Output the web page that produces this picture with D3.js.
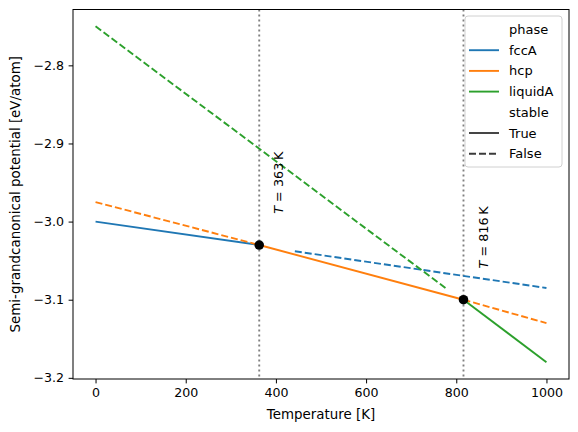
<!DOCTYPE html>
<html>
<head>
<meta charset="utf-8">
<script src="https://cdn.jsdelivr.net/npm/d3@7"></script>
<style>
  body { margin: 0; background: #fff; }
  text { font-family: "DejaVu Sans", sans-serif; }
</style>
</head>
<body>
<div id="chart"></div>
<script>
// phases and colours
var phases = ["fccA", "hcp", "liquidA"];
var phaseColors = ["#1f77b4", "#ff7f0e", "#2ca02c"];

// segments
var fccTrueT = [0, 363],     fccTrueV = [-3.000, -3.030];
var fccFalseT = [442, 1000], fccFalseV = [-3.038, -3.085];
var hcpFalseLowT = [0, 363], hcpFalseLowV = [-2.975, -3.030];
var hcpTrueT = [363, 816],   hcpTrueV = [-3.030, -3.100];
var hcpFalseHighT = [816, 1000], hcpFalseHighV = [-3.100, -3.130];
var liqFalseT = [0, 776],    liqFalseV = [-2.750, -3.085];
var liqTrueT = [816, 1000],  liqTrueV = [-3.100, -3.180];

// transitions
var transT = [363, 816];
var transV = [-3.030, -3.100];

var xTicks = [0, 200, 400, 600, 800, 1000];
var yTicks = [-3.2, -3.1, -3.0, -2.9, -2.8];

var segments = [
    {phase: "fccA", stable: true, T: fccTrueT, V: fccTrueV},
    {phase: "fccA", stable: false, T: fccFalseT, V: fccFalseV},
    {phase: "hcp", stable: false, T: hcpFalseLowT, V: hcpFalseLowV},
    {phase: "hcp", stable: true, T: hcpTrueT, V: hcpTrueV},
    {phase: "hcp", stable: false, T: hcpFalseHighT, V: hcpFalseHighV},
    {phase: "liquidA", stable: false, T: liqFalseT, V: liqFalseV},
    {phase: "liquidA", stable: true, T: liqTrueT, V: liqTrueV}
];

var W = 578, H = 432;
var margin = {top: 9.5, right: 9, bottom: 53, left: 73};
var width = W - margin.left - margin.right,
    height = H - margin.top - margin.bottom;

var svg = d3.select("#chart").append("svg")
    .attr("width", W)
    .attr("height", H);

var g = svg.append("g")
    .attr("transform", "translate(" + margin.left + "," + margin.top + ")");

var x = d3.scaleLinear().domain([-50, 1050]).range([0, width]);
var y = d3.scaleLinear().domain([-3.2015, -2.7285]).range([height, 0]);

var color = d3.scaleOrdinal().domain(phases).range(phaseColors);

var line = d3.line()
    .x(function(d) { return x(d[0]); })
    .y(function(d) { return y(d[1]); });

// clip
g.append("clipPath").attr("id", "clip")
    .append("rect").attr("width", width).attr("height", height);

var plot = g.append("g").attr("clip-path", "url(#clip)");

// vertical transition lines
plot.selectAll(".vline")
    .data(transT)
    .enter().append("line")
    .attr("class", "vline")
    .attr("x1", function(d) { return x(d); })
    .attr("x2", function(d) { return x(d); })
    .attr("y1", 0)
    .attr("y2", height)
    .style("stroke", "#808080")
    .style("stroke-width", 1.9)
    .style("stroke-dasharray", "1.9,3.1");

plot.selectAll(".seg")
    .data(segments)
    .enter().append("path")
    .attr("class", "seg")
    .attr("d", function(d) {
        return line(d.T.map(function(t, i) { return [t, d.V[i]]; }));
    })
    .style("fill", "none")
    .style("stroke", function(d) { return color(d.phase); })
    .style("stroke-width", 1.9)
    .style("stroke-dasharray", function(d) { return d.stable ? null : "7,3"; });

// transition points
plot.selectAll(".dot")
    .data(transT)
    .enter().append("circle")
    .attr("class", "dot")
    .attr("cx", function(d) { return x(d); })
    .attr("cy", function(d, i) { return y(transV[i]); })
    .attr("r", 4.8)
    .style("fill", "#000");

// T = ... K labels
var lab = g.selectAll(".tlab")
    .data(transT)
    .enter().append("text")
    .attr("class", "tlab")
    .attr("transform", function(d, i) {
        return "translate(" + (x(d + 30) + 10.5) + "," + y(transV[i] + 0.04) + ") rotate(-90)";
    })
    .style("font-size", "12.8px")
    .style("fill", "#000");
lab.append("tspan").style("font-style", "italic").text("T");
lab.append("tspan").text(function(d) { return " = " + d + "\u2009K"; });

// axes
var xAxis = g.append("g")
    .attr("transform", "translate(0," + height + ")")
    .call(d3.axisBottom(x).tickValues(xTicks).tickSize(4.4).tickPadding(4.5)
        .tickFormat(d3.format("d")));
var yAxis = g.append("g")
    .call(d3.axisLeft(y).tickValues(yTicks).tickSize(4.4).tickPadding(4.5)
        .tickFormat(function(d) { return d3.format(".1f")(d).replace("-", "\u2212"); }));

[xAxis, yAxis].forEach(function(a) {
    a.select(".domain").remove();
    a.selectAll("text").style("font-size", "12.6px").style("font-family", "DejaVu Sans").style("fill", "#000");
    a.selectAll("line").style("stroke", "#000").style("stroke-width", 1);
});

g.append("rect")
    .attr("width", width)
    .attr("height", height)
    .style("fill", "none")
    .style("stroke", "#000")
    .style("stroke-width", 1);

// axis labels
g.append("text")
    .attr("x", width / 2)
    .attr("y", height + 40)
    .attr("text-anchor", "middle")
    .style("font-size", "13.4px")
    .text("Temperature [K]");

g.append("text")
    .attr("transform", "translate(" + (-53.5) + "," + (height / 2) + ") rotate(-90)")
    .attr("text-anchor", "middle")
    .style("font-size", "13.4px")
    .text("Semi-grandcanonical potential [eV/atom]");

// legend
var legendItems = [
    {label: "phase", color: null, dash: null},
    {label: "fccA", color: phaseColors[0], dash: null},
    {label: "hcp", color: phaseColors[1], dash: null},
    {label: "liquidA", color: phaseColors[2], dash: null},
    {label: "stable", color: null, dash: null},
    {label: "True", color: "#3b3b3b", dash: null},
    {label: "False", color: "#3b3b3b", dash: "7,3"}
];

var legend = svg.append("g").attr("transform", "translate(465,16)");
legend.append("rect")
    .attr("width", 97)
    .attr("height", 151)
    .attr("rx", 3)
    .style("fill", "#fff")
    .style("fill-opacity", 0.8)
    .style("stroke", "#d0d0d0")
    .style("stroke-width", 1);

var li = legend.selectAll(".li")
    .data(legendItems)
    .enter().append("g")
    .attr("class", "li")
    .attr("transform", function(d, i) { return "translate(0," + (13.5 + i * 20.7) + ")"; });

li.filter(function(d) { return d.color; })
    .append("line")
    .attr("x1", 4).attr("x2", 34)
    .style("stroke", function(d) { return d.color; })
    .style("stroke-width", 1.9)
    .style("stroke-dasharray", function(d) { return d.dash; });

li.append("text")
    .attr("x", 44)
    .attr("dy", "0.35em")
    .style("font-size", "13px")
    .text(function(d) { return d.label; });
</script>
</body>
</html>
